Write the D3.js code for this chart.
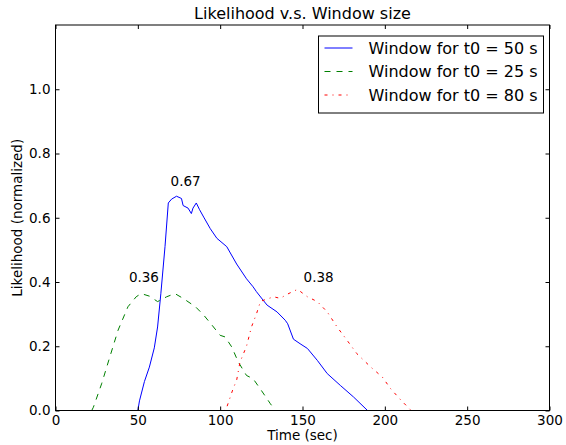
<!DOCTYPE html>
<meta charset="utf-8">
<style>
body { margin: 0; background: #fff; }
svg text { font-family: "DejaVu Sans", sans-serif; fill: #000; }
</style>
<svg id="chart" width="566" height="445"></svg>
<script src="https://d3js.org/d3.v7.min.js"></script>
<script>

// series: Window for t0 = 50 s
var t50 = [0, 50, 51, 54, 57, 60, 62, 64, 66.5, 68.5, 70.5, 73.5, 76.5, 77.5, 80.5, 82.5, 83.5, 85.5, 87.5, 90, 94, 98, 104, 110, 116, 120, 122, 126, 128.5, 134.5, 139.5, 141, 144.5, 148.5, 153, 159, 165, 173, 181, 189.5, 230];
var y50 = [0, 0, 0.03, 0.09, 0.135, 0.195, 0.26, 0.365, 0.51, 0.646, 0.658, 0.667, 0.66, 0.638, 0.63, 0.613, 0.63, 0.646, 0.625, 0.602, 0.566, 0.536, 0.51, 0.456, 0.41, 0.385, 0.37, 0.344, 0.328, 0.307, 0.281, 0.27, 0.222, 0.208, 0.193, 0.156, 0.115, 0.078, 0.042, 0, 0];

// series: Window for t0 = 25 s
var t25 = [0, 22, 23, 28, 33, 38, 44, 49, 52, 57, 62, 67.5, 72.5, 77.5, 85, 90, 95, 100, 103, 107, 111, 116, 120, 125, 130.5, 133.5, 175];
var y25 = [0, 0, 0.01, 0.083, 0.167, 0.25, 0.323, 0.354, 0.364, 0.356, 0.339, 0.354, 0.364, 0.349, 0.323, 0.297, 0.266, 0.234, 0.229, 0.198, 0.151, 0.109, 0.099, 0.0625, 0.021, 0, 0];

// series: Window for t0 = 80 s
var t80 = [80, 102, 104, 108, 110, 112, 116, 119, 122, 124.5, 128.5, 132.5, 136.5, 140, 144, 147, 153, 159, 165, 171, 177, 183, 191.5, 198.5, 203.5, 210, 216, 258];
var y80 = [0, 0, 0.01, 0.07, 0.094, 0.15, 0.2, 0.26, 0.3, 0.34, 0.347, 0.354, 0.349, 0.36, 0.37, 0.377, 0.354, 0.339, 0.307, 0.26, 0.219, 0.177, 0.135, 0.104, 0.068, 0.031, 0, 0];

var seriesNames = ["Window for t0 = 50 s", "Window for t0 = 25 s", "Window for t0 = 80 s"];

// peak labels
var peakLabels = ["0.67", "0.36", "0.38"];
var peakX = [79, 53.7, 159.8];
var peakY = [0.698, 0.401, 0.401];

var xTicks = [0, 50, 100, 150, 200, 250, 300];
var yTicks = [0, 0.2, 0.4, 0.6, 0.8, 1.0];

var svg = d3.select("#chart"),
    margin = {top: 25, right: 16.5, bottom: 34.5, left: 55.5},
    width = +svg.attr("width") - margin.left - margin.right,
    height = +svg.attr("height") - margin.top - margin.bottom,
    g = svg.append("g").attr("transform", "translate(" + margin.left + "," + margin.top + ")");

var x = d3.scaleLinear().domain([0, 300]).range([0, width]);
var y = d3.scaleLinear().domain([0, 1.2]).range([height, 0]);

var series = [
  {name: seriesNames[0], t: t50, v: y50, color: "#0000ff", dash: null},
  {name: seriesNames[1], t: t25, v: y25, color: "#008000", dash: "6,6"},
  {name: seriesNames[2], t: t80, v: y80, color: "#ff0000", dash: "3,5,1,5"}
];

var line = d3.line()
    .x(function(d) { return x(d[0]); })
    .y(function(d) { return y(d[1]); });

g.selectAll("path.series")
  .data(series)
  .enter().append("path")
    .attr("class", "series")
    .attr("fill", "none")
    .attr("stroke", function(d) { return d.color; })
    .attr("stroke-width", 1)
    .attr("stroke-dasharray", function(d) { return d.dash; })
    .attr("d", function(d) { return line(d.t.map(function(t, i) { return [t, d.v[i]]; })); });

// frame and inward ticks on all sides
var tickLen = 4;
var xb = d3.axisBottom(x).tickValues(xTicks).tickSizeInner(-tickLen).tickSizeOuter(0).tickPadding(5).tickFormat(d3.format("d"));
var xt = d3.axisTop(x).tickValues(xTicks).tickSizeInner(-tickLen).tickSizeOuter(0).tickFormat("");
var yl = d3.axisLeft(y).tickValues(yTicks).tickSizeInner(-tickLen).tickSizeOuter(0).tickPadding(5).tickFormat(d3.format(".1f"));
var yr = d3.axisRight(y).tickValues(yTicks).tickSizeInner(-tickLen).tickSizeOuter(0).tickFormat("");

function styleAxis(sel) {
  sel.select(".domain").remove();
  sel.selectAll("line").attr("stroke", "#000");
  sel.selectAll("text").attr("font-size", 13.5).attr("font-family", "DejaVu Sans");
}

g.append("g").attr("transform", "translate(0," + height + ")").call(xb).call(styleAxis);
g.append("g").call(xt).call(styleAxis);
g.append("g").call(yl).call(styleAxis);
g.append("g").attr("transform", "translate(" + width + ",0)").call(yr).call(styleAxis);

g.append("rect")
    .attr("width", width)
    .attr("height", height)
    .attr("fill", "none")
    .attr("stroke", "#000")
    .attr("stroke-width", 1);

// peak annotations
g.selectAll("text.peak")
  .data(peakLabels)
  .enter().append("text")
    .attr("class", "peak")
    .attr("x", function(d, i) { return x(peakX[i]); })
    .attr("y", function(d, i) { return y(peakY[i]); })
    .attr("text-anchor", "middle")
    .attr("font-size", 13.5)
    .text(function(d) { return d; });

// titles
svg.append("text")
    .attr("x", margin.left + width / 2)
    .attr("y", 19)
    .attr("text-anchor", "middle")
    .attr("font-size", 16)
    .text("Likelihood v.s. Window size");

svg.append("text")
    .attr("x", margin.left + width / 2)
    .attr("y", 440)
    .attr("text-anchor", "middle")
    .attr("font-size", 13.5)
    .text("Time (sec)");

svg.append("text")
    .attr("transform", "translate(22," + (margin.top + height / 2) + ") rotate(-90)")
    .attr("text-anchor", "middle")
    .attr("font-size", 13.5)
    .text("Likelihood (normalized)");

// legend
var legend = g.append("g").attr("transform", "translate(" + (width - 231) + ",11)");

legend.append("rect")
    .attr("width", 225)
    .attr("height", 77)
    .attr("fill", "#fff")
    .attr("stroke", "#000")
    .attr("stroke-width", 1);

var item = legend.selectAll("g.item")
  .data(series)
  .enter().append("g")
    .attr("class", "item")
    .attr("transform", function(d, i) { return "translate(0," + (12 + i * 23.5) + ")"; });

item.append("line")
    .attr("x1", 6)
    .attr("x2", 34)
    .attr("stroke", function(d) { return d.color; })
    .attr("stroke-dasharray", function(d) { return d.dash; });

item.append("text")
    .attr("x", 50)
    .attr("dy", "0.35em")
    .attr("font-size", 16)
    .text(function(d) { return d.name; });

</script>
